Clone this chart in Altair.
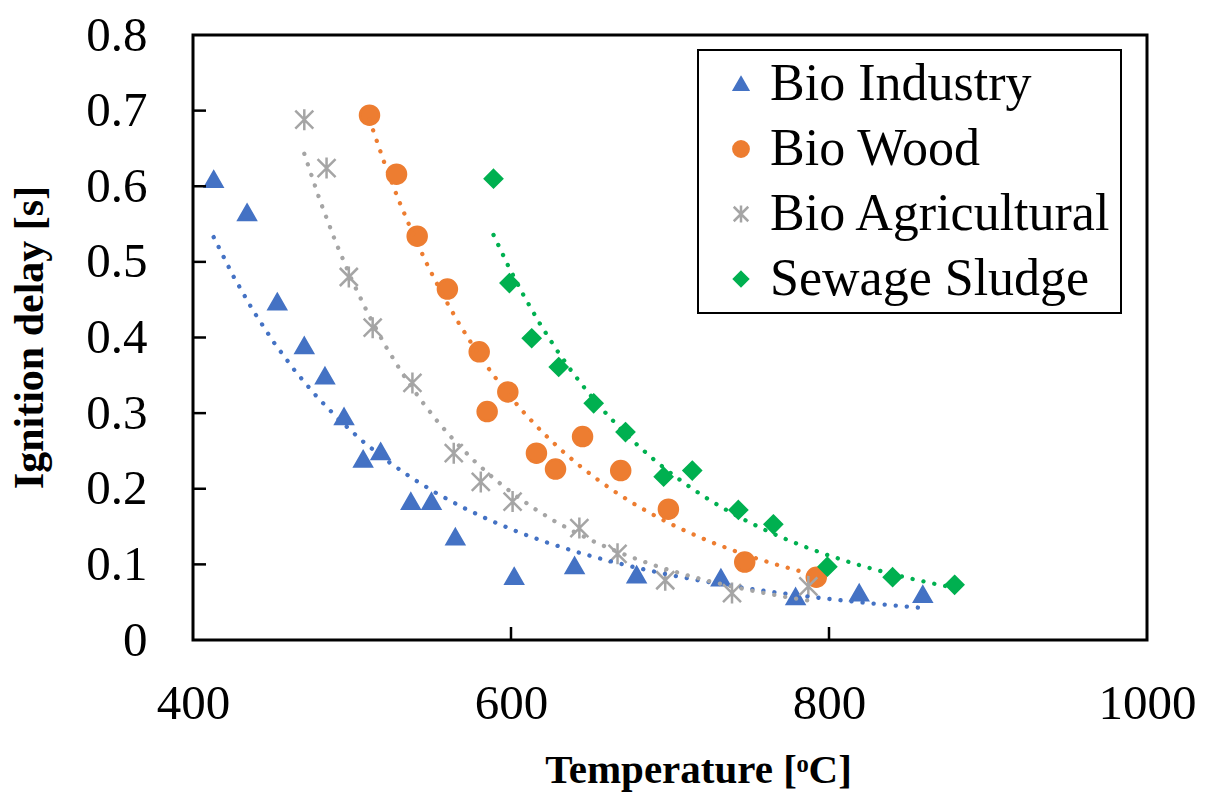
import altair as alt
import pandas as pd

# Ignition delay measurements per fuel group
series_names = ["Bio Industry", "Bio Wood", "Bio Agricultural", "Sewage Sludge"]
series_colors = ["#4472C4", "#ED7D31", "#A5A5A5", "#00B050"]

industry_temp = [413, 434, 453, 470, 483, 495, 507, 518, 537, 550, 565, 602, 640, 679, 732, 779, 819, 859]
industry_delay = [0.609, 0.565, 0.447, 0.389, 0.349, 0.295, 0.239, 0.249, 0.183, 0.183, 0.136, 0.084, 0.098, 0.086, 0.082, 0.057, 0.062, 0.060]

wood_temp = [511, 528, 541, 560, 580, 585, 598, 616, 628, 645, 669, 699, 747, 792]
wood_delay = [0.694, 0.616, 0.534, 0.464, 0.381, 0.302, 0.328, 0.247, 0.226, 0.269, 0.224, 0.173, 0.103, 0.083]

agri_temp = [470, 484, 498, 513, 538, 564, 581, 601, 643, 667, 697, 739, 787]
agri_delay = [0.688, 0.624, 0.480, 0.413, 0.340, 0.247, 0.209, 0.183, 0.148, 0.114, 0.079, 0.062, 0.071]

sludge_temp = [589, 599, 613, 630, 652, 672, 696, 714, 743, 765, 799, 840, 879]
sludge_delay = [0.610, 0.472, 0.399, 0.361, 0.313, 0.275, 0.216, 0.224, 0.172, 0.153, 0.097, 0.083, 0.073]

x_ticks = [400, 600, 800, 1000]
y_ticks = [0, 0.1, 0.2, 0.3, 0.4, 0.5, 0.6, 0.7, 0.8]
x_inner_ticks = [600, 800]
y_inner_ticks = [0.1, 0.2, 0.3, 0.4, 0.5, 0.6, 0.7]

# Marker outlines in a [-1, 1] box: triangle, circle, asterisk, diamond
marker_paths = [
    "M0,-0.78L0.86,0.72L-0.86,0.72Z",
    "M0.95,0A0.95,0.95 0 1,1 -0.95,0A0.95,0.95 0 1,1 0.95,0Z",
    "M0,-1.05L0,1.05M-0.9,-0.9L0.9,0.9M-0.9,0.9L0.9,-0.9",
    "M0,-0.86L0.86,0L0,0.86L-0.86,0Z",
]

frames = []
for name, t, d in [
    (series_names[0], industry_temp, industry_delay),
    (series_names[1], wood_temp, wood_delay),
    (series_names[2], agri_temp, agri_delay),
    (series_names[3], sludge_temp, sludge_delay),
]:
    frames.append(pd.DataFrame({"series": name, "temp": t, "delay": d}))
df = pd.concat(frames, ignore_index=True)

FONT = "Liberation Serif"
W, H = 954, 605

x_scale = alt.Scale(domain=[400, 1000], nice=False, zero=False)
y_scale = alt.Scale(domain=[0, 0.8], nice=False)
col_scale = alt.Scale(domain=series_names, range=series_colors)
shape_scale = alt.Scale(domain=series_names, range=marker_paths)

x_axis = alt.Axis(
    values=x_ticks, format="d", ticks=False, domain=False, grid=False,
    labelFont=FONT, labelFontSize=49, labelColor="black", labelPadding=39,
    labelFlush=False, labelOverlap=False, labelBound=False,
    title="Temperature [ᵒC]", titleFont=FONT, titleFontSize=41, titleFontWeight="bold",
    titleColor="black", titleX=505, titleY=142, titleBaseline="alphabetic", titleAlign="center",
)
y_axis = alt.Axis(
    values=y_ticks, format=".1~f", ticks=False, domain=False, grid=False,
    labelFont=FONT, labelFontSize=49, labelColor="black", labelPadding=46,
    labelFlush=False, labelOverlap=False, labelBound=False,
    title="Ignition delay [s]", titleFont=FONT, titleFontSize=42, titleFontWeight="bold",
    titleColor="black", titleX=-151, titleY=302, titleAngle=270,
    titleBaseline="alphabetic", titleAlign="center",
)

# Legend labels carry a trailing en space so the frame leaves room on the right
legend = alt.Legend(title=None, labelExpr="datum.label + '\u2002'")

points = alt.Chart(df).mark_point(size=400, strokeWidth=2.5, opacity=1).encode(
    x=alt.X("temp:Q", scale=x_scale, axis=x_axis),
    y=alt.Y("delay:Q", scale=y_scale, axis=y_axis),
    stroke=alt.Stroke("series:N", scale=col_scale, legend=legend),
    fill=alt.Fill("series:N", scale=col_scale, legend=legend),
    shape=alt.Shape("series:N", scale=shape_scale, legend=legend),
)

# Power-law trendlines: straight-line fit of ln(delay) against ln(temperature)
trends = alt.Chart(df).transform_calculate(
    ln_temp="log(datum.temp)", ln_delay="log(datum.delay)"
).transform_regression(
    "ln_temp", "ln_delay", groupby=["series"], method="poly", order=1
).transform_calculate(
    t_fit="exp(datum.ln_temp)", d_fit="exp(datum.ln_delay)"
).mark_line(strokeWidth=4.3, strokeDash=[0.1, 11], strokeCap="round").encode(
    x=alt.X("t_fit:Q", scale=x_scale),
    y=alt.Y("d_fit:Q", scale=y_scale),
    stroke=alt.Stroke("series:N", scale=col_scale, legend=None),
)

# Inward-pointing tick marks
y_tick_marks = alt.Chart(pd.DataFrame({"v": y_inner_ticks})).mark_rule(
    color="black", strokeWidth=2.5
).encode(
    y=alt.Y("v:Q", scale=y_scale),
    x=alt.value(0), x2=alt.value(13),
)
x_tick_marks = alt.Chart(pd.DataFrame({"v": x_inner_ticks})).mark_rule(
    color="black", strokeWidth=2.5
).encode(
    x=alt.X("v:Q", scale=x_scale),
    y=alt.value(H), y2=alt.value(H - 13),
)

chart = alt.layer(points, trends, y_tick_marks, x_tick_marks).properties(
    width=W, height=H,
    autosize=alt.AutoSizeParams(type="none"),
    padding={"left": 193, "top": 35, "right": 61, "bottom": 159},
    background="white",
).configure_view(
    stroke="black", strokeWidth=3,
).configure_legend(
    orient="none", legendX=505, legendY=15,
    labelFont=FONT, labelFontSize=52, labelColor="black", labelLimit=0,
    symbolSize=260, symbolStrokeWidth=2.5, symbolOffset=9, labelOffset=3,
    rowPadding=13, padding=8,
    strokeColor="black", strokeWidth=2, fillColor="white",
)

chart.save("out.html", embed_options={"renderer": "svg", "actions": False})
